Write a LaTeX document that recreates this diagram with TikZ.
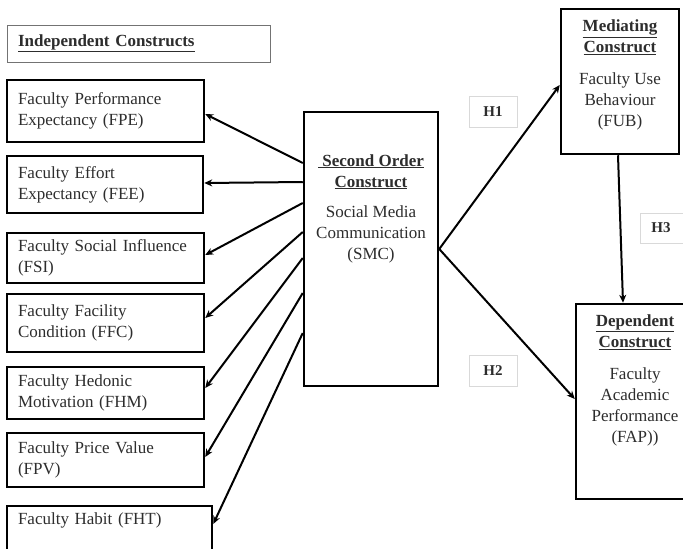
\documentclass[tikz,border=0pt]{standalone}
\usepackage{fontspec}
\setmainfont{Liberation Serif}
\usetikzlibrary{arrows.meta}
\definecolor{txt}{RGB}{45,45,45}
\begin{document}
\begin{tikzpicture}[x=1pt,y=-1pt,
  every node/.style={font=\fontsize{17}{21}\selectfont, text=txt},
  ibox/.style={draw=black, line width=2.5pt, inner sep=0pt, align=left},
  cbox/.style={draw=black, line width=2.5pt, inner sep=0pt},
  hbox/.style={draw=black!15, line width=0.8pt, inner sep=0pt, minimum width=48pt, minimum height=31pt, font=\fontsize{15}{18}\selectfont\bfseries},
  conn/.style={line width=2pt, draw=black, -{Stealth[length=8pt,width=7pt]}},
  ctext/.style={align=center, inner sep=0pt}
]
\useasboundingbox (0,0) rectangle (683,549);
\fill[white] (0,0) rectangle (683,549);

% title box
\node[draw=black!55, line width=0.8pt, inner sep=0pt, minimum width=263pt, minimum height=37pt, text width=241pt, align=left, font=\fontsize{17}{21}\selectfont\bfseries] (ind) at (138.5,43.5) {\underline{Independent Constructs}};

% independent constructs
\node[ibox, minimum width=197pt, minimum height=62pt, text width=175pt] (fpe) at (105.5,111) {Faculty Performance\\Expectancy (FPE)};
\node[ibox, minimum width=196pt, minimum height=57pt, text width=174pt] (fee) at (105,184.5) {Faculty Effort\\Expectancy (FEE)};
\node[ibox, minimum width=197pt, minimum height=50pt, text width=175pt] (fsi) at (105.5,258) {Faculty Social Influence\\(FSI)};
\node[ibox, minimum width=197pt, minimum height=58pt, text width=175pt] (ffc) at (105.5,323) {Faculty Facility\\Condition (FFC)};
\node[ibox, minimum width=197pt, minimum height=52pt, text width=175pt] (fhm) at (105.5,393) {Faculty Hedonic\\Motivation (FHM)};
\node[ibox, minimum width=197pt, minimum height=54pt, text width=175pt] (fpv) at (105.5,460) {Faculty Price Value\\(FPV)};
\node[ibox, minimum width=205pt, minimum height=46pt, text width=183pt] (fht) at (109.5,529) {Faculty Habit (FHT)\\\mbox{}};

% second order construct
\node[cbox, minimum width=134pt, minimum height=274pt] (smc) at (371,249) {};
\node[ctext] (smct) at (371,208.5) {\textbf{\underline{\ Second Order}}\\\textbf{\underline{Construct}}\\[9pt]Social Media\\Communication\\(SMC)};

% mediating construct
\node[cbox, minimum width=118pt, minimum height=145pt] (fub) at (620,81.5) {};
\node[ctext] (fubt) at (620,75) {\textbf{\underline{Mediating}}\\\textbf{\underline{Construct}}\\[11pt]Faculty Use\\Behaviour\\(FUB)};

% dependent construct
\node[cbox, minimum width=118pt, minimum height=195pt] (fap) at (635,401.5) {};
\node[ctext] (fapt) at (635,380) {\textbf{\underline{Dependent}}\\\textbf{\underline{Construct}}\\[11pt]Faculty\\Academic\\Performance\\(FAP))};

% hypothesis labels
\node[hbox] (h1) at (493,111.5) {H1};
\node[hbox] (h2) at (493,370.5) {H2};
\draw[draw=black!15, line width=0.8pt] (700,213) -- (640,213) -- (640,243) -- (700,243);
\node[font=\fontsize{15}{18}\selectfont\bfseries, inner sep=0pt] (h3) at (661,228) {H3};

% connectors
\draw[conn] ([yshift=86pt]smc.west) -- ([yshift=-3pt]fpe.east);
\draw[conn] ([yshift=67pt]smc.west) -- ([yshift=1.5pt]fee.east);
\draw[conn] ([yshift=46pt]smc.west) -- ([yshift=3pt]fsi.east);
\draw[conn] ([yshift=17pt]smc.west) -- ([yshift=5pt]ffc.east);
\draw[conn] ([yshift=-9pt]smc.west) -- ([yshift=5pt]fhm.east);
\draw[conn] ([yshift=-44pt]smc.west) -- ([yshift=3pt]fpv.east);
\draw[conn] ([yshift=-84pt]smc.west) -- ([yshift=5pt]fht.east);

\draw[conn] (smc.east) -- ([yshift=-3.5pt]fub.west);
\draw[conn] (smc.east) -- ([yshift=2.5pt]fap.west);
\draw[conn] ([xshift=-2pt]fub.south) -- ([xshift=-12pt]fap.north);
\end{tikzpicture}
\end{document}
